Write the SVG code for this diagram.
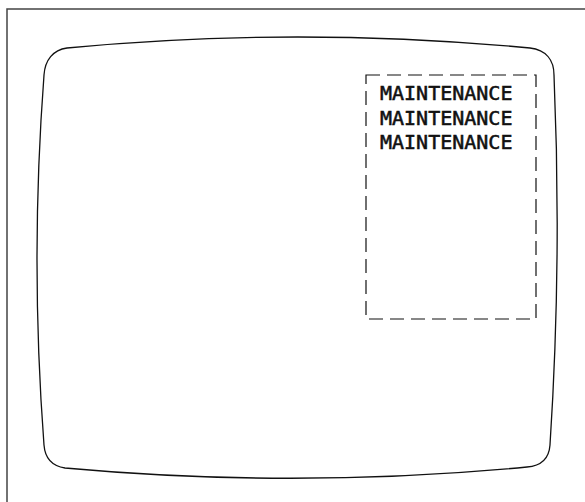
<svg xmlns="http://www.w3.org/2000/svg" width="585" height="502" viewBox="0 0 585 502">
<style>
.frame{fill:none;stroke:#444;stroke-width:1.5}
.screen{fill:none;stroke:#111;stroke-width:1.3}
.zone{fill:none;stroke:#111;stroke-width:1.2;stroke-dasharray:14 7}
.lbl{font-family:"DejaVu Sans Mono",monospace;font-size:20px;fill:#111;stroke:#111;stroke-width:0.55}
</style>
<rect width="585" height="502" fill="#fff"/>
<g id="frame"><rect class="frame" x="7" y="9" width="600" height="520"/></g>
<g id="screen">
<path class="screen" d="M67,48 Q297,26 530,48 C546,50 554,60 554,75 Q562,260 550,445 C549,459 540,466 527,467 Q296,489 65,468 C52,466 45,458 44,445 Q30,260 44,75 C45,60 53,50 67,48 Z"/>
</g>
<g id="maintenance">
<rect class="zone" x="366" y="75" width="170" height="244"/>
<text class="lbl" x="380" y="100">MAINTENANCE</text>
<text class="lbl" x="380" y="124.5">MAINTENANCE</text>
<text class="lbl" x="380" y="149">MAINTENANCE</text>
</g>
<g id="connectors"/>
</svg>
